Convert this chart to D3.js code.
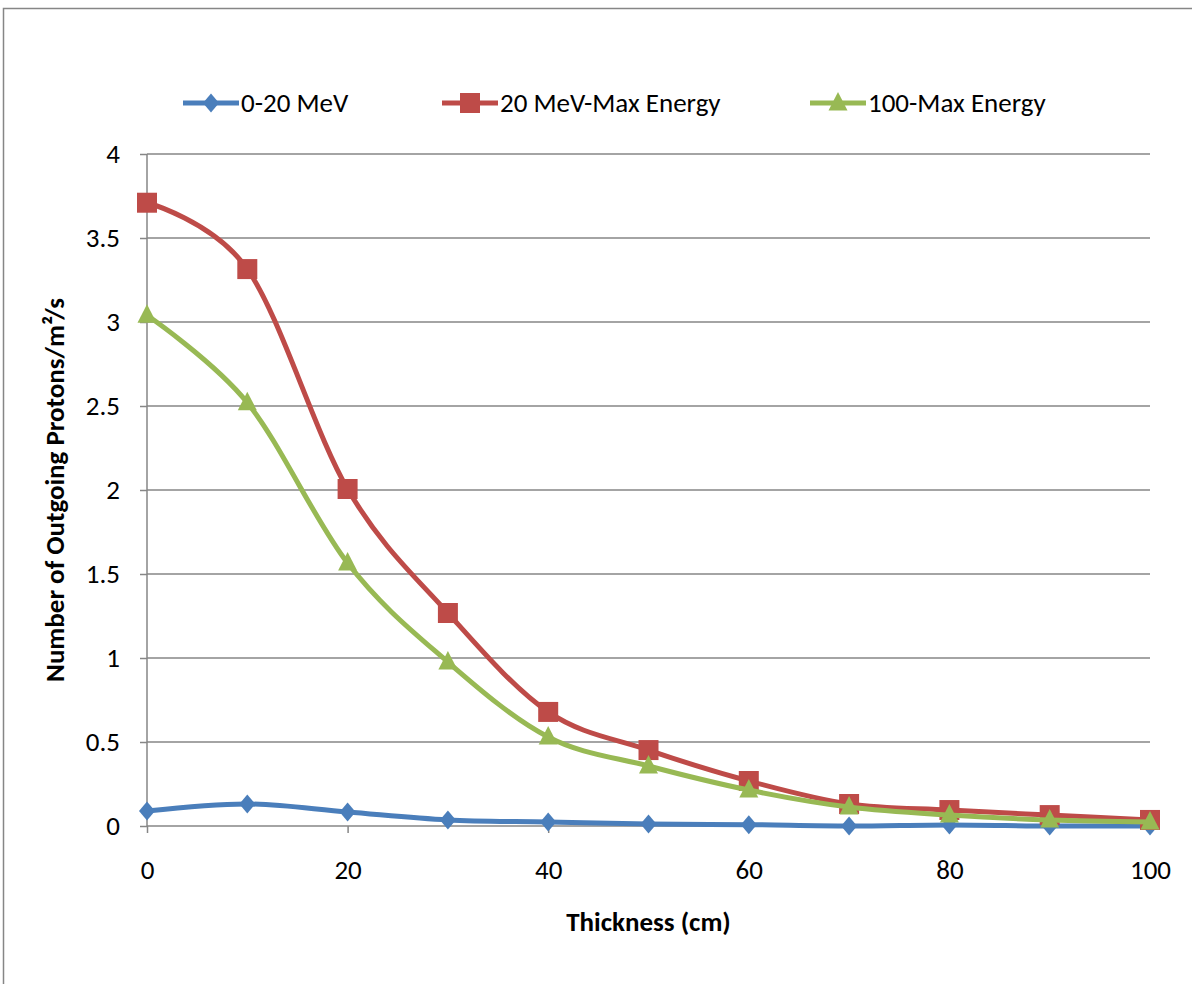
<!DOCTYPE html>
<html>
<head>
<meta charset="utf-8">
<script src="https://cdn.jsdelivr.net/npm/d3@7"></script>
<style>
  body { margin: 0; background: #fff; }
  text { font-family: Carlito, Lato, "Open Sans", sans-serif; }
</style>
</head>
<body>
<div id="chart"></div>
<script>
// data
var thickness = [0, 10, 20, 30, 40, 50, 60, 70, 80, 90, 100];
var lowEnergy = [0.089, 0.131, 0.083, 0.036, 0.024, 0.012, 0.008, 0.0, 0.006, 0.0, 0.0];
var midEnergy = [3.71, 3.315, 2.006, 1.268, 0.679, 0.452, 0.268, 0.131, 0.095, 0.065, 0.036];
var highEnergy = [3.04, 2.52, 1.565, 0.976, 0.53, 0.357, 0.214, 0.113, 0.065, 0.036, 0.024];
var seriesNames = ["0-20 MeV", "20 MeV-Max Energy", "100-Max Energy"];
var xTicks = [0, 20, 40, 60, 80, 100];
var yTicks = [0, 0.5, 1, 1.5, 2, 2.5, 3, 3.5, 4];

var width = 1192, height = 984;
var margin = {top: 154, right: 42, bottom: 158, left: 147};
var fontSize = 27;

var svg = d3.select("#chart").append("svg")
  .attr("width", width)
  .attr("height", height);

// outer chart frame (runs off the right/bottom edge)
svg.append("rect")
  .attr("x", 3.5).attr("y", 8.5)
  .attr("width", width + 10).attr("height", height + 10)
  .attr("fill", "none").attr("stroke", "#868686").attr("stroke-width", 1.5);

var x = d3.scaleLinear().domain([0, 100]).range([margin.left, width - margin.right]);
var y = d3.scaleLinear().domain([0, 4]).range([height - margin.bottom, margin.top]);

// gridlines
svg.append("g")
  .selectAll("line").data(yTicks.slice(1)).enter().append("line")
  .attr("x1", x(0)).attr("x2", x(100))
  .attr("y1", function(d) { return y(d); }).attr("y2", function(d) { return y(d); })
  .attr("stroke", "#868686").attr("stroke-width", 1.5);

// y axis
var yAxis = svg.append("g")
  .attr("transform", "translate(" + x(0) + ",0)")
  .call(d3.axisLeft(y).tickValues(yTicks).tickSize(7).tickPadding(20)
    .tickFormat(function(d) { return String(d); }));
yAxis.selectAll("path, line").attr("stroke", "#868686").attr("stroke-width", 1.5);
yAxis.select(".domain").attr("d", "M0," + y(4) + "V" + y(0));
yAxis.selectAll("text").attr("font-size", fontSize).attr("fill", "#000")
  .attr("font-family", "Carlito, Lato, sans-serif");

// x axis
var xAxis = svg.append("g")
  .attr("transform", "translate(0," + y(0) + ")")
  .call(d3.axisBottom(x).tickValues(xTicks).tickSize(7).tickPadding(27));
xAxis.selectAll("path, line").attr("stroke", "#868686").attr("stroke-width", 1.5);
xAxis.select(".domain").attr("d", "M" + x(0) + ",0H" + x(100));
xAxis.selectAll("text").attr("font-size", fontSize).attr("fill", "#000")
  .attr("font-family", "Carlito, Lato, sans-serif");

// axis titles
svg.append("text")
  .attr("x", (x(0) + x(100)) / 2).attr("y", 931)
  .attr("text-anchor", "middle").attr("font-size", fontSize).attr("font-weight", "bold")
  .text("Thickness (cm)");
svg.append("text")
  .attr("transform", "translate(64," + (y(0) + y(4)) / 2 + ") rotate(-90)")
  .attr("text-anchor", "middle").attr("font-size", fontSize).attr("font-weight", "bold")
  .text("Number of Outgoing Protons/m²/s");

var colors = ["#4A7EBB", "#BE4B48", "#98B954"];
var allSeries = [lowEnergy, midEnergy, highEnergy];

var line = d3.line()
  .x(function(d, i) { return x(thickness[i]); })
  .y(function(d) { return y(d); })
  .curve(d3.curveCatmullRom.alpha(0));

// marker shapes, centred on 0,0
var markerPaths = [
  "M0,-9.5L8,0L0,9.5L-8,0Z",
  "M-10,-10H10V10H-10Z",
  "M0,-11L9.5,7.5H-9.5Z"
];

function drawMarker(g, k, px, py) {
  return g.append("path").attr("d", markerPaths[k]).attr("fill", colors[k])
    .attr("transform", "translate(" + px + "," + py + ")");
}

allSeries.forEach(function(vals, k) {
  var g = svg.append("g");
  g.append("path").datum(vals)
    .attr("d", line)
    .attr("fill", "none")
    .attr("stroke", colors[k])
    .attr("stroke-width", 5)
    .attr("stroke-linejoin", "round");
  vals.forEach(function(v, i) { drawMarker(g, k, x(thickness[i]), y(v)); });
});

// legend
var legendX = [183, 442, 810];
seriesNames.forEach(function(name, k) {
  var g = svg.append("g");
  g.append("line")
    .attr("x1", legendX[k]).attr("x2", legendX[k] + 56)
    .attr("y1", 103).attr("y2", 103)
    .attr("stroke", colors[k]).attr("stroke-width", 5);
  drawMarker(g, k, legendX[k] + 28, 103);
  g.append("text")
    .attr("x", legendX[k] + 58).attr("y", 112)
    .attr("font-size", fontSize).attr("fill", "#000")
    .text(name);
});
</script>
</body>
</html>
